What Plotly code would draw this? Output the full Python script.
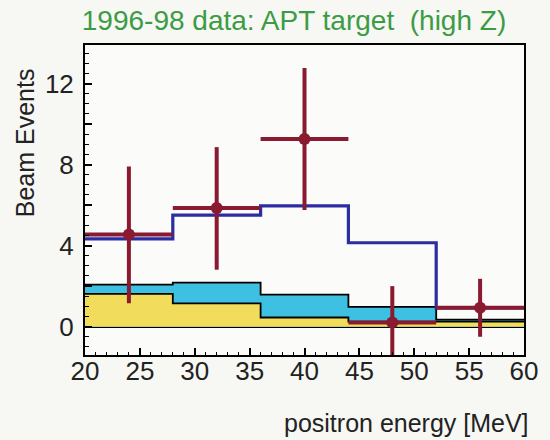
import plotly.graph_objects as go

# bin edges (MeV)
edges = [20, 28, 36, 44, 52, 60]
# stacked backgrounds (cumulative top of each band), one value per bin
yellow_top = [1.62, 1.15, 0.45, 0.25, 0.25]
cyan_top = [2.07, 2.17, 1.58, 0.98, 0.35]
# total expectation (blue)
blue_total = [4.33, 5.50, 5.96, 4.14, 0.93]
# data points
data_x = [24, 32, 40, 48, 56]
data_y = [4.55, 5.86, 9.26, 0.20, 0.93]
err_up = [3.35, 3.00, 3.50, 1.80, 1.43]
err_dn = [3.40, 3.05, 3.50, 2.00, 1.43]
half_bin = [4, 4, 4, 4, 4]

x_ticks = [20, 25, 30, 35, 40, 45, 50, 55, 60]
y_tickvals = [0, 2, 4, 6, 8, 10, 12]
y_ticktext = ["0", "", "4", "", "8", "", "12"]

YELLOW = "#f1dc5c"
CYAN = "#3ec0e3"
BLUE = "#2b2ea3"
DRED = "#8a1a30"
GREEN = "#3c9c45"
FONT = "Liberation Sans"

def step(vals):
    return vals + [vals[-1]]

fig = go.Figure()
fig.add_trace(go.Scatter(x=edges, y=step(cyan_top), mode="lines", line_shape="hv",
                         fill="tozeroy", fillcolor=CYAN,
                         line=dict(color="black", width=1.8), hoverinfo="skip"))
fig.add_trace(go.Scatter(x=edges, y=step(yellow_top), mode="lines", line_shape="hv",
                         fill="tozeroy", fillcolor=YELLOW,
                         line=dict(color="black", width=1.8), hoverinfo="skip"))
fig.add_trace(go.Scatter(x=edges, y=step(blue_total), mode="lines", line_shape="hv",
                         line=dict(color=BLUE, width=3.2), hoverinfo="skip"))
fig.add_trace(go.Scatter(x=data_x, y=data_y, mode="markers",
                         marker=dict(color=DRED, size=12),
                         error_y=dict(type="data", array=err_up, arrayminus=err_dn,
                                      color=DRED, thickness=4, width=0),
                         error_x=dict(type="data", array=half_bin, color=DRED,
                                      thickness=4, width=0)))

axis_common = dict(showline=True, linecolor="black", linewidth=2, mirror=True,
                   showgrid=False, ticks="inside", tickcolor="black",
                   tickfont=dict(family=FONT, size=26, color="#222"),
                   layer="above traces")
fig.update_xaxes(range=[20, 60], tickvals=x_ticks, ticklen=7, tickwidth=1.6,
                 zeroline=False, ticklabelstandoff=-8,
                 minor=dict(ticks="inside", dtick=1, tick0=20, ticklen=3.5,
                            tickwidth=1.4, tickcolor="black", showgrid=False),
                 **axis_common)
fig.update_yaxes(range=[-1.4, 13.9], tickmode="array", tickvals=y_tickvals,
                 ticktext=y_ticktext, ticklen=7, tickwidth=1.6,
                 zeroline=True, zerolinecolor="black", zerolinewidth=1.8,
                 ticklabelstandoff=4,
                 minor=dict(ticks="inside", dtick=0.5, tick0=0, ticklen=3.5,
                            tickwidth=1.4, tickcolor="black", showgrid=False),
                 **axis_common)

fig.update_layout(
    width=550, height=440,
    margin=dict(l=85, r=24, t=45, b=85),
    paper_bgcolor="#f7f7f4", plot_bgcolor="#fbfbf9",
    showlegend=False,
    title=dict(text="1996-98 data: APT target&nbsp;&nbsp;(high Z)",
               font=dict(family=FONT, size=28, color=GREEN),
               x=294/550, xanchor="center", xref="container",
               y=1 - 20/440, yanchor="middle", yref="container"),
    annotations=[
        dict(text="Beam Events", textangle=-90, xref="paper", yref="paper",
             x=(25 - 85) / 441, y=(355 - 143) / 310, xanchor="center", yanchor="middle",
             showarrow=False, font=dict(family=FONT, size=25, color="#222")),
        dict(text="positron energy [MeV]", xref="paper", yref="paper",
             x=(533 - 85) / 441, y=(355 - 423) / 310, xanchor="right", yanchor="middle",
             showarrow=False, font=dict(family=FONT, size=25, color="#222")),
    ],
)

fig.write_html("out.html")
